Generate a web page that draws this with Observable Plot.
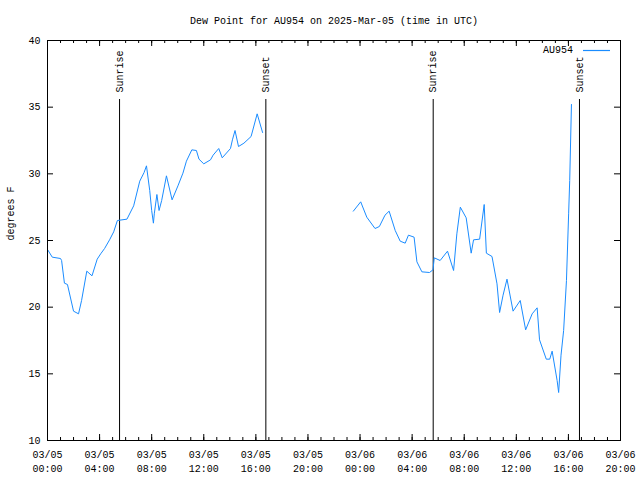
<!DOCTYPE html>
<html>
<head>
<meta charset="utf-8">
<script src="https://cdn.jsdelivr.net/npm/d3@7"></script>
<script src="https://cdn.jsdelivr.net/npm/@observablehq/plot@0.6"></script>
<style>
  html, body { margin: 0; padding: 0; background: #fff; }
  svg { display: block; }
</style>
</head>
<body>
<div id="chart"></div>
<script>
// Observation times (UTC) and dew point values (°F); null marks the data gap
const times = [
  "2025-03-05 00:01","2025-03-05 00:22","2025-03-05 01:00","2025-03-05 01:05","2025-03-05 01:18",
  "2025-03-05 01:32","2025-03-05 02:00","2025-03-05 02:23","2025-03-05 02:37","2025-03-05 03:01",
  "2025-03-05 03:25","2025-03-05 03:49","2025-03-05 04:05","2025-03-05 04:23","2025-03-05 04:46",
  "2025-03-05 05:05","2025-03-05 05:22","2025-03-05 06:06","2025-03-05 06:37","2025-03-05 07:05",
  "2025-03-05 07:25","2025-03-05 07:36","2025-03-05 07:51","2025-03-05 08:00","2025-03-05 08:08",
  "2025-03-05 08:12","2025-03-05 08:24","2025-03-05 08:34","2025-03-05 08:46","2025-03-05 09:08",
  "2025-03-05 09:34","2025-03-05 10:01","2025-03-05 10:24","2025-03-05 10:40","2025-03-05 11:05",
  "2025-03-05 11:26","2025-03-05 11:38","2025-03-05 12:00","2025-03-05 12:31","2025-03-05 12:43",
  "2025-03-05 13:09","2025-03-05 13:25","2025-03-05 14:03","2025-03-05 14:12","2025-03-05 14:24",
  "2025-03-05 14:40","2025-03-05 15:05","2025-03-05 15:38","2025-03-05 16:06","2025-03-05 16:31",
  "2025-03-05 20:00",
  "2025-03-05 23:29","2025-03-06 00:03","2025-03-06 00:31","2025-03-06 01:09","2025-03-06 01:29",
  "2025-03-06 01:55","2025-03-06 02:14","2025-03-06 02:42","2025-03-06 03:05","2025-03-06 03:28",
  "2025-03-06 03:43","2025-03-06 04:09","2025-03-06 04:22","2025-03-06 04:45","2025-03-06 05:20",
  "2025-03-06 05:36","2025-03-06 05:42","2025-03-06 06:09","2025-03-06 06:43","2025-03-06 07:11",
  "2025-03-06 07:26","2025-03-06 07:42","2025-03-06 08:09","2025-03-06 08:32","2025-03-06 08:43",
  "2025-03-06 09:11","2025-03-06 09:32","2025-03-06 09:42","2025-03-06 10:08","2025-03-06 10:31",
  "2025-03-06 10:43","2025-03-06 10:59","2025-03-06 11:17","2025-03-06 11:45","2025-03-06 12:18",
  "2025-03-06 12:43","2025-03-06 13:13","2025-03-06 13:36","2025-03-06 13:47","2025-03-06 14:18",
  "2025-03-06 14:34","2025-03-06 14:45","2025-03-06 15:08","2025-03-06 15:15","2025-03-06 15:26",
  "2025-03-06 15:38","2025-03-06 15:51","2025-03-06 16:01","2025-03-06 16:06","2025-03-06 16:14"
];
const dewPoint = [
  24.3, 23.75, 23.65, 23.5, 21.8,
  21.7, 19.7, 19.5, 20.5, 22.7,
  22.35, 23.6, 24.0, 24.4, 25.05,
  25.65, 26.5, 26.6, 27.6, 29.45,
  30.1, 30.6, 28.75, 27.25, 26.3,
  27.0, 28.45, 27.25, 28.0, 29.85,
  28.05, 29.1, 30.05, 30.95, 31.8,
  31.75, 31.1, 30.75, 31.05, 31.4,
  31.9, 31.2, 31.9, 32.55, 33.25,
  32.05, 32.3, 32.8, 34.5, 33.1,
  null,
  27.2, 27.9, 26.75, 25.9, 26.05,
  26.9, 27.2, 25.75, 24.95, 24.8,
  25.4, 25.25, 23.4, 22.65, 22.6,
  22.8, 23.7, 23.5, 24.2, 22.75,
  25.5, 27.5, 26.7, 24.05, 25.05,
  25.1, 27.7, 24.05, 23.8, 21.75,
  19.6, 20.9, 22.1, 19.7, 20.5,
  18.3, 19.5, 19.95, 17.55, 16.1,
  16.1, 16.7, 14.5, 13.6, 16.4,
  18.25, 22.0, 27.0, 29.5, 35.2
];
const sunEventTimes = ["2025-03-05 05:32", "2025-03-05 16:46", "2025-03-06 05:37", "2025-03-06 16:51"];
const sunEventLabels = ["Sunrise", "Sunset", "Sunrise", "Sunset"];
const yTicks = [10, 15, 20, 25, 30, 35, 40];
const seriesName = "AU954";
const titleText = "Dew Point for AU954 on 2025-Mar-05 (time in UTC)";
const yLabel = "degrees F";

const parse = d3.utcParse("%Y-%m-%d %H:%M");
const data = times.map((t, i) => ({time: parse(t), value: dewPoint[i]}));
const sunEvents = sunEventTimes.map((t, i) => ({time: parse(t), label: sunEventLabels[i]}));
const xDomain = [parse("2025-03-05 00:00"), parse("2025-03-06 20:00")];
const majorTicks = d3.utcHour.every(4).range(xDomain[0], d3.utcHour.offset(xDomain[1], 1));
const minorTicks = d3.utcHour.every(1).range(xDomain[0], d3.utcHour.offset(xDomain[1], 1));

const W = 640, H = 480;
const mL = 47, mR = 20, mT = 40, mB = 40;
const innerW = W - mL - mR, innerH = H - mT - mB;
const font = "'Liberation Mono', 'DejaVu Sans Mono', monospace";
const lineColor = "#1a8cff";

const legendMark = (index, scales, values, dims) => {
  const g = d3.create("svg:g");
  const xr = dims.width - dims.marginRight - 10;
  g.append("line")
    .attr("x1", xr - 27).attr("x2", xr)
    .attr("y1", dims.marginTop + 10.5).attr("y2", dims.marginTop + 10.5)
    .attr("stroke", lineColor).attr("stroke-width", 1.2);
  g.append("text")
    .attr("x", xr - 37).attr("y", dims.marginTop + 10)
    .attr("text-anchor", "end").attr("dominant-baseline", "middle")
    .attr("font-family", font).attr("font-size", 10).attr("fill", "#000")
    .text(seriesName);
  return g.node();
};

const chart = Plot.plot({
  width: W, height: H,
  marginLeft: mL, marginRight: mR, marginTop: mT, marginBottom: mB,
  style: {fontFamily: font, fontSize: "10px", background: "#fff", color: "#000"},
  x: {type: "utc", domain: xDomain},
  y: {domain: [10, 40]},
  marks: [
    // axes labels
    Plot.axisX(majorTicks, {tickSize: 0, tickPadding: 8, lineHeight: 1.4,
      tickFormat: d3.utcFormat("%m/%d\n%H:%M"), label: null, fontSize: 10}),
    Plot.axisY(yTicks, {tickSize: 0, tickPadding: 7, label: null, fontSize: 10}),
    // inward ticks (bottom/top, left/right)
    Plot.tickX(minorTicks, {x: d => d, insetTop: innerH - 3, stroke: "#000"}),
    Plot.tickX(minorTicks, {x: d => d, insetBottom: innerH - 3, stroke: "#000"}),
    Plot.tickX(majorTicks, {x: d => d, insetTop: innerH - 6, stroke: "#000"}),
    Plot.tickX(majorTicks, {x: d => d, insetBottom: innerH - 6, stroke: "#000"}),
    Plot.tickY(yTicks, {y: d => d, insetRight: innerW - 6, stroke: "#000"}),
    Plot.tickY(yTicks, {y: d => d, insetLeft: innerW - 6, stroke: "#000"}),
    // sunrise / sunset
    Plot.ruleX(sunEvents, {x: "time", insetTop: 59, stroke: "#000", strokeWidth: 1}),
    Plot.text(sunEvents, {x: "time", text: "label", frameAnchor: "top", rotate: -90,
      textAnchor: "start", lineAnchor: "middle", dy: 52, fontSize: 10, fill: "#000"}),
    // data line
    Plot.line(data, {x: "time", y: "value", stroke: lineColor, strokeWidth: 1}),
    Plot.frame({stroke: "#000", strokeWidth: 1}),
    // title and y label
    Plot.text([titleText], {frameAnchor: "top", dy: -20, fontSize: 10, fill: "#000", lineAnchor: "middle"}),
    Plot.text([yLabel], {frameAnchor: "left", dx: -37, rotate: -90, fontSize: 10, fill: "#000", lineAnchor: "middle"}),
    legendMark
  ]
});
document.getElementById("chart").appendChild(chart);
</script>
</body>
</html>
